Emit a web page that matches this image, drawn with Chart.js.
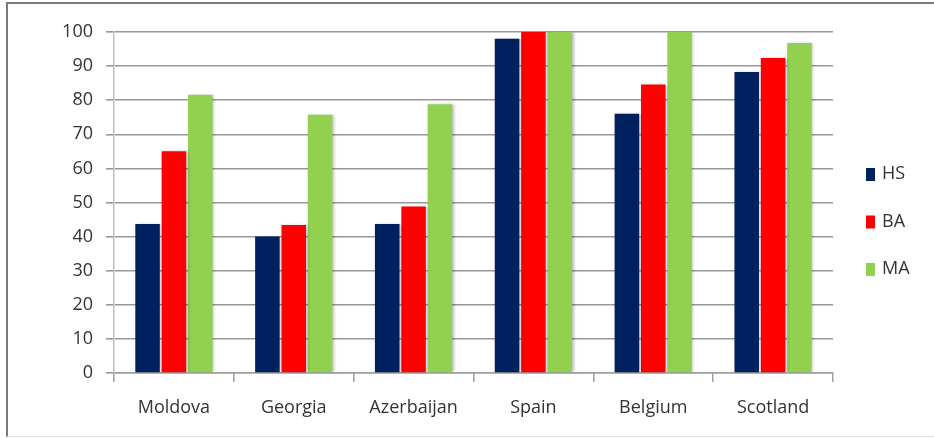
<!DOCTYPE html>
<html lang="en">
<head>
    <meta charset="UTF-8">
    <title>HS / BA / MA by country</title>
    <script src="https://cdn.jsdelivr.net/npm/chart.js@4.4.1/dist/chart.umd.min.js"></script>
    <style>
        body {
            margin: 0;
            background: #ffffff;
            overflow: hidden;
        }

        .wrap {
            position: relative;
            width: 934px;
            height: 438px;
        }

        /* thin frame round the chart, like the original picture */
        .frame {
            position: absolute;
            left: 6px;
            top: 2px;
            right: 0;
            bottom: 1px;
            border-top: 2px solid #7a7a7a;
            border-left: 2px solid #7a7a7a;
            border-bottom: 1px solid #e2e2e2;
            pointer-events: none;
        }
    </style>
</head>
<body>
    <div class="wrap">
        <canvas id="degreeChart"></canvas>
        <div class="frame"></div>
    </div>

    <script>
// data
const countries = ['Moldova', 'Georgia', 'Azerbaijan', 'Spain', 'Belgium', 'Scotland'];
const hsValues = [43.7, 40, 43.7, 98, 76, 88.3];
const baValues = [65, 43.4, 48.8, 100, 84.6, 92.4];
const maValues = [81.6, 75.7, 78.8, 100, 100, 96.8];
const yTicks = [0, 10, 20, 30, 40, 50, 60, 70, 80, 90, 100];

const textColor = '#333333';
const fontFamily = "'Open Sans', 'Noto Sans', sans-serif";

// soft shadow on the bars
const barShadow = {
    id: 'barShadow',
    beforeDatasetsDraw(chart) {
        const ctx = chart.ctx;
        ctx.save();
        ctx.shadowColor = 'rgba(0, 0, 0, 0.28)';
        ctx.shadowBlur = 3;
        ctx.shadowOffsetX = 1.5;
        ctx.shadowOffsetY = 0;
    },
    afterDatasetsDraw(chart) {
        chart.ctx.restore();
    }
};

// legend on the right, stacked, small square markers
const sideLegend = {
    id: 'sideLegend',
    afterDraw(chart) {
        const ctx = chart.ctx;
        ctx.save();
        ctx.font = '18px ' + fontFamily;
        ctx.textBaseline = 'middle';
        ctx.textAlign = 'left';
        chart.data.datasets.forEach((ds, i) => {
            const y = 174 + i * 47.5;
            ctx.fillStyle = ds.backgroundColor;
            ctx.fillRect(866, y - 6, 9, 13);
            ctx.fillStyle = textColor;
            ctx.fillText(ds.label, 882, y);
        });
        ctx.restore();
    }
};

const ctx = document.getElementById('degreeChart').getContext('2d');
const chart = new Chart(ctx, {
    type: 'bar',
    data: {
        labels: countries,
        datasets: [
            { label: 'HS', data: hsValues, backgroundColor: '#002060' },
            { label: 'BA', data: baValues, backgroundColor: '#ff0000' },
            { label: 'MA', data: maValues, backgroundColor: '#92d050' }
        ]
    },
    options: {
        responsive: true,
        maintainAspectRatio: false,
        animation: false,
        datasets: {
            bar: {
                categoryPercentage: 0.66,
                barPercentage: 0.93
            }
        },
        layout: {
            padding: { left: 0, right: 101, top: 32, bottom: 5 }
        },
        scales: {
            x: {
                grid: {
                    offset: true,
                    drawOnChartArea: false,
                    drawTicks: true,
                    tickLength: 9,
                    color: '#a0a0a0',
                    lineWidth: 1.5
                },
                border: { color: '#a0a0a0', width: 1.5 },
                ticks: {
                    color: textColor,
                    font: { family: fontFamily, size: 18 },
                    padding: 15,
                    maxRotation: 0
                },
                afterFit(scale) {
                    scale.height = 60;
                }
            },
            y: {
                min: 0,
                max: 100,
                afterBuildTicks(scale) {
                    scale.ticks = yTicks.map(v => ({ value: v }));
                },
                grid: {
                    color: '#989898',
                    lineWidth: 1.6,
                    drawTicks: true,
                    tickLength: 8
                },
                border: { color: '#c0c0c0', width: 1.5 },
                ticks: {
                    color: textColor,
                    font: { family: fontFamily, size: 18 },
                    padding: 13
                },
                afterFit(scale) {
                    scale.width = 114;
                }
            }
        },
        plugins: {
            legend: { display: false },
            tooltip: { enabled: false }
        }
    },
    plugins: [barShadow, sideLegend]
});
    </script>
</body>
</html>
